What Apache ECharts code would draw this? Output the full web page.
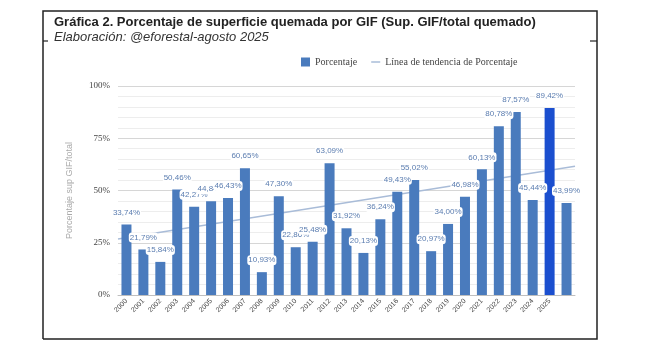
<!DOCTYPE html>
<html><head><meta charset="utf-8">
<script src="https://cdn.jsdelivr.net/npm/echarts@6/dist/echarts.min.js"></script>
<style>html,body{margin:0;padding:0;background:#fff}#c{width:650px;height:360px}</style>
</head><body><div id="c"></div>
<script>
const years = ['2000','2001','2002','2003','2004','2005','2006','2007','2008','2009','2010','2011','2012','2013','2014','2015','2016','2017','2018','2019','2020','2021','2022','2023','2024','2025',''];
const porcentaje = [33.74,21.79,15.84,50.46,42.27,44.84,46.43,60.65,10.93,47.30,22.86,25.48,63.09,31.92,20.13,36.24,49.43,55.02,20.97,34.00,46.98,60.13,80.78,87.57,45.44,89.42,43.99];
const highlightIndex = 25;
const trendX = [-0.5, 26.5];
const trendY = [26.8, 61.6];
const yTicks = [0, 25, 50, 75, 100];

const chart = echarts.init(document.getElementById('c'), null, {renderer:'canvas'});
const fmt = v => v.toFixed(2).replace('.', ',') + '%';
chart.setOption({
  animation:false,
  backgroundColor:'#fff',
  title:[
    {text:'Gráfica 2. Porcentaje de superficie quemada por GIF (Sup. GIF/total quemado)', left:49, top:11,
     textStyle:{fontFamily:'Liberation Sans', fontWeight:'bold', fontSize:13, color:'#222'}},
    {text:'Elaboración: @eforestal-agosto 2025', left:49, top:26,
     textStyle:{fontFamily:'Liberation Sans', fontStyle:'italic', fontWeight:'normal', fontSize:13, color:'#333'}}
  ],
  legend:{
    top:52, left:296, itemGap:14, itemWidth:9, itemHeight:9,
    textStyle:{fontFamily:'Liberation Serif', fontSize:10, color:'#444'},
    data:[{name:'Porcentaje', icon:'rect'}, {name:'Línea de tendencia de Porcentaje', icon:'path://M0,4 L12,4 L12,6 L0,6 Z', itemStyle:{color:'#a9bcd8'}}]
  },
  grid:{left:118, right:75, top:86, bottom:65},
  xAxis:[
    {type:'category', data:years, boundaryGap:true,
     axisLine:{lineStyle:{color:'#bfbfbf'}}, axisTick:{show:false},
     axisLabel:{rotate:45, fontSize:7, color:'#444', margin:5, interval:0, fontFamily:'Liberation Sans'}},
    {type:'value', min:-0.5, max:26.5, show:false}
  ],
  yAxis:{
    type:'value', min:0, max:100, interval:25,
    name:'Porcentaje sup GIF/total', nameLocation:'middle', nameGap:44, nameRotate:90,
    nameTextStyle:{fontSize:9, color:'#aaa', fontFamily:'Liberation Sans'},
    axisLine:{show:false}, axisTick:{show:false},
    axisLabel:{formatter:v=>v+'%', fontSize:9, color:'#444', fontFamily:'Liberation Serif', margin:8},
    splitLine:{lineStyle:{color:'#d6d6d6'}},
    minorTick:{show:false, splitNumber:5},
    minorSplitLine:{show:true, lineStyle:{color:'#ededed'}}
  },
  series:[
    {name:'Porcentaje', type:'bar', barWidth:10, xAxisIndex:0,
     itemStyle:{color:'#4a7bbd'},
     data:porcentaje.map((v,i)=> i===highlightIndex ? {value:v, itemStyle:{color:'#1b4fcf'}} : v),
     label:{show:true, position:'top', distance:7, formatter:p=>fmt(p.value), fontSize:8, color:'#5b7db0',
            fontFamily:'Liberation Sans', backgroundColor:'#fff', padding:[1,1], borderRadius:3},
     z:2},
    {name:'Línea de tendencia de Porcentaje', type:'line', xAxisIndex:1, symbol:'none',
     lineStyle:{color:'#a9bcd8', width:1.3}, itemStyle:{color:'#a9bcd8'},
     data:trendX.map((x,i)=>[x, trendY[i]]), z:1}
  ],
  graphic:[
    {type:'polyline', shape:{points:[[43,339],[43,11],[597,11],[597,339],[43,339]]}, style:{stroke:'#222', lineWidth:1.5, fill:null}, silent:true},
    {type:'line', shape:{x1:43,y1:41,x2:48,y2:41}, style:{stroke:'#222', lineWidth:1.2}},
    {type:'line', shape:{x1:590,y1:41,x2:597,y2:41}, style:{stroke:'#222', lineWidth:1.2}}
  ]
});
</script></body></html>
